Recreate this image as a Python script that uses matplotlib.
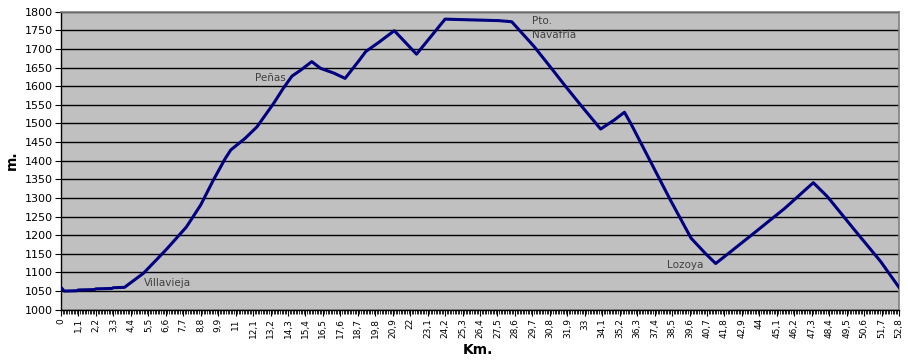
import matplotlib
matplotlib.use("Agg")
import matplotlib.pyplot as plt
from matplotlib.ticker import MultipleLocator

# Elevation profile vertices (km, metres)
km = [0, 0.2, 1.0, 1.1, 2.1, 2.2, 3.2, 3.3, 4.0, 5.2, 6.6, 7.9, 8.8, 9.6, 10.35, 10.7,
      11.6, 12.35, 13.4, 14.0, 14.55, 15.1, 15.8, 16.35, 17.2, 17.9, 18.8, 19.2, 20.0,
      21.0, 22.4, 23.3, 24.2, 25.9, 27.6, 28.4, 29.8, 30.9, 31.8, 32.75, 34.0, 34.85,
      35.5, 35.9, 37.15, 38.4, 39.7, 40.6, 41.25, 42.2, 43.5, 45.6, 47.4, 48.3, 50.0,
      51.65, 52.8]
elev = [1060, 1050, 1051, 1053, 1054, 1056, 1057, 1059, 1060, 1098, 1160, 1222, 1281,
        1348, 1406, 1429, 1460, 1491, 1554, 1594, 1627, 1643, 1666, 1648, 1635, 1621,
        1670, 1693, 1717, 1749, 1686, 1733, 1780, 1778, 1776, 1773, 1707, 1648, 1599,
        1549, 1485, 1509, 1530, 1500, 1397, 1294, 1192, 1151, 1124, 1156, 1200, 1272,
        1341, 1303, 1214, 1129, 1060]

tick_labels = ["0", "1,1", "2,2", "3,3", "4,4", "5,5", "6,6", "7,7", "8,8", "9,9", "11",
               "12,1", "13,2", "14,3", "15,4", "16,5", "17,6", "18,7", "19,8", "20,9", "22",
               "23,1", "24,2", "25,3", "26,4", "27,5", "28,6", "29,7", "30,8", "31,9", "33",
               "34,1", "35,2", "36,3", "37,4", "38,5", "39,6", "40,7", "41,8", "42,9", "44",
               "45,1", "46,2", "47,3", "48,4", "49,5", "50,6", "51,7", "52,8"]
y_ticks = list(range(1000, 1801, 50))

places = ["Villavieja", "Peñas", "Pto.\nNavafría", "Lozoya"]
place_km = [5.2, 12.2, 29.7, 38.2]
place_m = [1072, 1622, 1755, 1120]

W, H = 908, 364
fig = plt.figure(figsize=(W / 100, H / 100), dpi=100)
ax = fig.add_axes([61 / W, 1 - 309.7 / H, (899 - 61) / W, (309.7 - 11.7) / H])
ax.set_facecolor("#C0C0C0")

ax.plot(km, elev, color="#000080", linewidth=2.2, solid_joinstyle="round", zorder=3)

ax.set_xlim(0, 52.8)
ax.set_ylim(1000, 1800)
ax.set_yticks(y_ticks)
ax.set_yticklabels([str(v) for v in y_ticks], fontsize=8)
ax.yaxis.grid(True, color="black", linewidth=1.0)
ax.set_axisbelow(True)

tick_pos = [float(t.replace(",", ".")) for t in tick_labels]
ax.set_xticks(tick_pos)
ax.set_xticklabels(tick_labels, rotation=90, fontsize=6.5)
ax.xaxis.set_minor_locator(MultipleLocator(0.1))
ax.tick_params(axis="x", which="major", length=4, width=0.8, direction="out", pad=2)
ax.tick_params(axis="x", which="minor", length=3, width=0.6, direction="out")
ax.tick_params(axis="y", which="major", length=4, width=0.8, direction="out", pad=2)

for s in ["top", "right"]:
    ax.spines[s].set_color("#808080")
    ax.spines[s].set_linewidth(1.2)
for s in ["left", "bottom"]:
    ax.spines[s].set_color("black")
    ax.spines[s].set_linewidth(1.0)

for name, x, y in zip(places, place_km, place_m):
    ax.text(x, y, name, fontsize=7.5, color="#404040", ha="left", va="center",
            linespacing=1.5, zorder=4)

fig.text(12 / W, 1 - 160 / H, "m.", rotation=90, fontsize=10, fontweight="bold",
         ha="center", va="center")
fig.text(478 / W, 1 - 350 / H, "Km.", fontsize=10, fontweight="bold",
         ha="center", va="center")

fig.savefig("out.png", dpi=100)
